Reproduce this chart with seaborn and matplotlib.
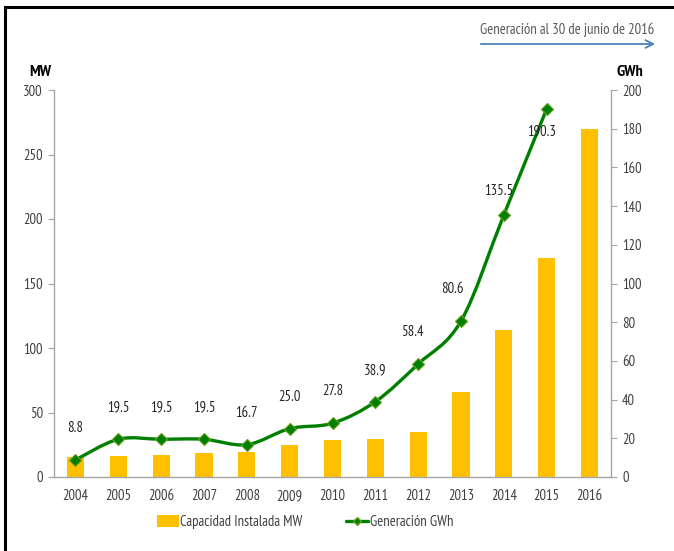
import numpy as np
import pandas as pd
import matplotlib
matplotlib.use('Agg')
import matplotlib.pyplot as plt
import seaborn as sns
from matplotlib.path import Path
from matplotlib.patches import PathPatch, Rectangle, FancyArrowPatch, Patch
from matplotlib.lines import Line2D

sns.set_style('white')
plt.rcParams['font.family'] = ['PT Sans Narrow', 'DejaVu Sans']

# data
years = ['2004', '2005', '2006', '2007', '2008', '2009', '2010',
         '2011', '2012', '2013', '2014', '2015', '2016']
capacidad_mw = [15.7, 16.5, 17.3, 18.4, 19.4, 25.0, 28.4, 29.5, 34.6, 65.6, 114.0, 169.5, 269.5]
generacion_gwh = [8.8, 19.5, 19.5, 19.5, 16.7, 25.0, 27.8, 38.9, 58.4, 80.6, 135.5, 190.3]
gen_labels = ['8.8', '19.5', '19.5', '19.5', '16.7', '25.0', '27.8', '38.9', '58.4', '80.6', '135.5', '190.3']

bar_color = '#FFC000'
line_color = '#008000'
axis_color = '#A6A6A6'
text_color = '#404040'

df = pd.DataFrame({'Year': years, 'MW': capacidad_mw})

fig = plt.figure(figsize=(6.74, 5.51), dpi=100)
ax = fig.add_axes([54/674, 1-477/551, (611-54)/674, (477-90)/551])

sns.barplot(data=df, x='Year', y='MW', color=bar_color, width=0.4,
            saturation=1, linewidth=0, ax=ax)
ax.set_ylim(0, 300)
ax.set_yticks(np.arange(0, 301, 50))
ax.set_xlabel('')
ax.set_ylabel('')

ax2 = ax.twinx()
ax2.set_ylim(0, 200)
ax2.set_yticks(np.arange(0, 201, 20))

# smoothed line (Excel style bezier) through the generation points
xs = np.arange(len(generacion_gwh), dtype=float)
ys = np.array(generacion_gwh, dtype=float)
pts = np.column_stack([xs, ys])
verts = [pts[0]]
codes = [Path.MOVETO]
n = len(pts)
for i in range(n - 1):
    p0 = pts[max(i - 1, 0)]
    p1 = pts[i]
    p2 = pts[i + 1]
    p3 = pts[min(i + 2, n - 1)]
    c1 = p1 + (p2 - p0) / 6.0
    c2 = p2 - (p3 - p1) / 6.0
    verts += [c1, c2, p2]
    codes += [Path.CURVE4] * 3
ax2.add_patch(PathPatch(Path(verts, codes), fill=False, ec=line_color, lw=2.4, zorder=3))

sns.scatterplot(x=xs, y=ys, marker='D', s=38, color=line_color,
                edgecolor='#6AA121', linewidth=0.8, ax=ax2, zorder=4)

# value labels
offsets = [23, 23, 23, 23, 23, 23, 23, 23, 23, 23, 17, -16]
x_shift = [0, 0, 0, 0, 0, 0, 0, 0, -4, -6, -4, -4]
for x, y, lab, dy, dx in zip(xs, ys, gen_labels, offsets, x_shift):
    ax2.annotate(lab, (x, y), xytext=(dx, dy), textcoords='offset points',
                 ha='center', va='center', fontsize=10.5, color='#262626', zorder=5)

for a in (ax, ax2):
    a.spines['top'].set_visible(False)
    for s in ('left', 'right', 'bottom'):
        a.spines[s].set_color(axis_color)
        a.spines[s].set_linewidth(1.0)
ax.spines['right'].set_visible(False)
ax2.spines['left'].set_visible(False)
ax2.spines['bottom'].set_visible(False)

ax.tick_params(axis='y', length=4, color=axis_color, labelcolor=text_color,
               labelsize=10.5, pad=4, direction='out')
ax2.tick_params(axis='y', length=4, color=axis_color, labelcolor=text_color,
                labelsize=10.5, pad=4, direction='out')
ax.tick_params(axis='x', which='major', length=0, labelcolor=text_color,
               labelsize=10.5, pad=9)
ax.set_xticks(np.arange(-0.5, len(years), 1.0), minor=True)
ax.tick_params(axis='x', which='minor', length=5, color=axis_color, direction='out')
ax.set_xlim(-0.5, len(years) - 0.5)

# axis unit titles
fig.text(40/674, 1-72/551, 'MW', ha='center', va='center', fontsize=11.5,
         fontweight='bold', color='#000000')
fig.text(630/674, 1-72/551, 'GWh', ha='center', va='center', fontsize=11.5,
         fontweight='bold', color='#000000')

# note with arrow
fig.text(567/674, 1-30/551, 'Generación al 30 de junio de 2016', ha='center',
         va='center', fontsize=10.5, color='#595959')
fig.add_artist(FancyArrowPatch((478/674, 1-44/551), (658/674, 1-44/551),
                               transform=fig.transFigure, arrowstyle='->',
                               mutation_scale=14, color='#4F81BD', lw=1.3))

# legend
handles = [Patch(facecolor=bar_color, edgecolor='none'),
           Line2D([0], [0], color=line_color, lw=2.4, marker='D', markersize=4,
                  markerfacecolor=line_color, markeredgecolor='#6AA121')]
leg = fig.legend(handles, ['Capacidad Instalada MW', 'Generación GWh'],
                 loc='center', bbox_to_anchor=(305/674, 1-522/551), ncol=2,
                 frameon=False, fontsize=10.5, handlelength=1.5, handleheight=0.8,
                 handletextpad=0.1, columnspacing=3.0)
for t in leg.get_texts():
    t.set_color(text_color)

# black frame (top and left visible)
fig.patches.append(Rectangle((5/674, -0.2), 1.2, 1.2 - 7/551, transform=fig.transFigure,
                             fill=False, ec='black', lw=2.2, figure=fig))

fig.savefig('out.png', dpi=100)
